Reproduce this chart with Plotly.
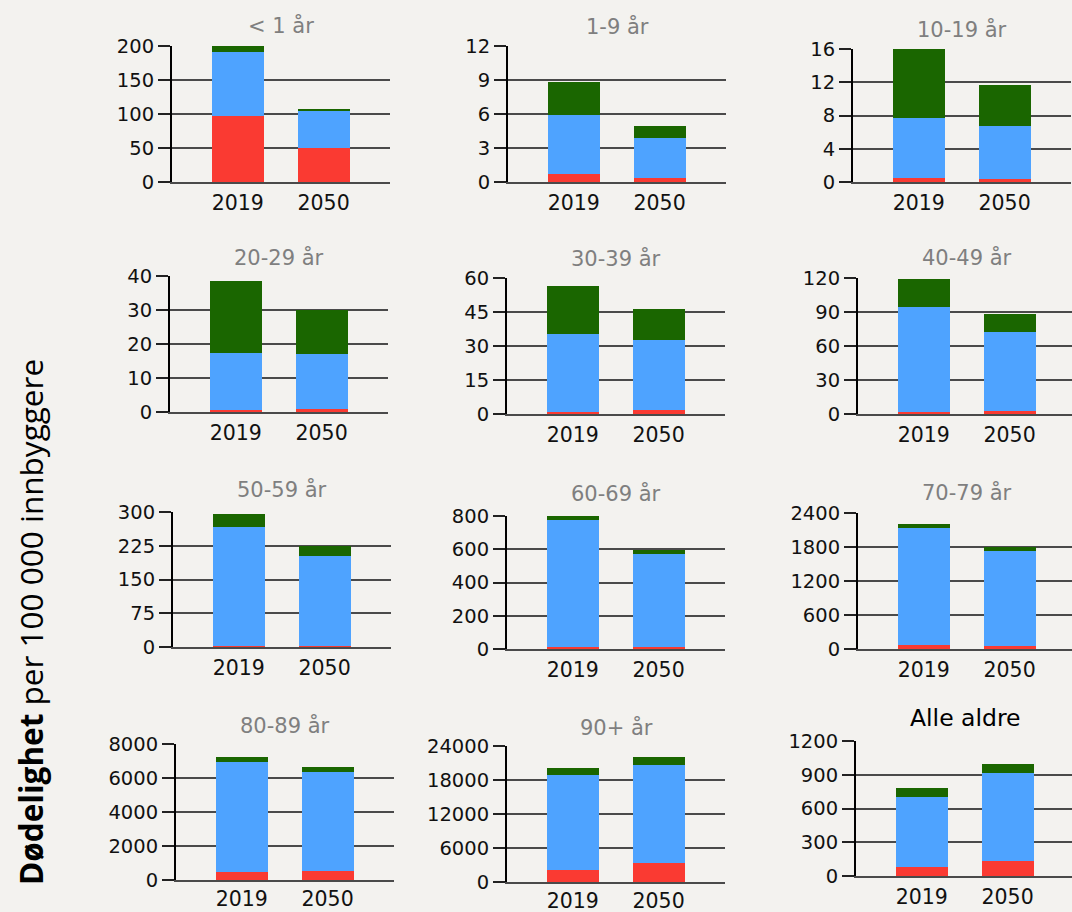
import plotly.graph_objects as go

# Dødelighet per 100 000 innbyggere, fordelt på tre komponenter (rød, blå, grønn)
years = ["2019", "2050"]
age_groups = ["< 1 år", "1-9 år", "10-19 år",
              "20-29 år", "30-39 år", "40-49 år",
              "50-59 år", "60-69 år", "70-79 år",
              "80-89 år", "90+ år", "Alle aldre"]

red_part = [[97, 50], [0.74, 0.35], [0.52, 0.32],
            [0.6, 0.9], [0.7, 1.8], [1.5, 2.9],
            [3, 3], [14, 10], [71, 59],
            [490, 529], [2176, 3294], [77, 136]]
blue_part = [[94, 54], [5.2, 3.5], [7.14, 6.42],
             [16.9, 16.3], [34.6, 30.7], [93.2, 69.4],
             [263.7, 199], [764, 559], [2063, 1674],
             [6451, 5824], [16706, 17294], [626, 783]]
green_part = [[9, 3], [2.91, 1.06], [8.64, 4.93],
              [21.0, 12.9], [21.3, 13.7], [24.3, 15.9],
              [28.1, 21.7], [34, 26], [71, 59],
              [314, 314], [1177, 1412], [83, 74]]

y_max = [200, 12, 16, 40, 60, 120, 300, 800, 2400, 8000, 24000, 1200]
y_step = [50, 3, 4, 10, 15, 30, 75, 200, 600, 2000, 6000, 300]

# Panel placement in pixels: left edge of the value axis, baseline, top, title centre
W, H = 1072, 912
axis_left = [172, 508, 853, 170, 507, 858, 173, 507, 858, 176, 507, 856]
axis_zero = [182, 182, 182, 412, 414, 414, 647, 649, 649, 880, 882, 876]
axis_top = [46, 46, 49, 276, 278, 278, 512, 516, 513, 744, 746, 741]
title_mid = [25, 27, 29, 257, 258, 257, 490, 493, 492, 725, 727, 718]
label_gap = [2, 2, 2, 2, 2, 2, 2, 2, 2, 0, 0, 2]
panel_w = 218
px_per_cat = 85.8
cat_pad = 0.767

colors = ["#fa3a32", "#4ea3ff", "#1a6600"]
bg = "#f3f2ef"
FONT = "DejaVu Sans, Arial, sans-serif"
ytick_font = dict(family=FONT, size=19.5, color="#111111")
xtick_font = dict(family=FONT, size=20.5, color="#111111")

fig = go.Figure()
layout = dict(
    width=W, height=H,
    margin=dict(l=0, r=0, t=0, b=0, pad=0, autoexpand=False),
    paper_bgcolor=bg, plot_bgcolor=bg, barmode="stack", showlegend=False,
    annotations=[],
)

for i in range(12):
    n = i + 1
    xa = "x" if n == 1 else f"x{n}"
    ya = "y" if n == 1 else f"y{n}"
    for part, col in zip((red_part, blue_part, green_part), colors):
        fig.add_trace(go.Bar(x=years, y=part[i], xaxis=xa, yaxis=ya,
                             marker=dict(color=col, line=dict(width=0)),
                             width=0.605))
    left = axis_left[i]
    right = min(left + panel_w, W)
    x_hi = -cat_pad + (right - left) / px_per_cat
    key = "" if n == 1 else str(n)
    layout[f"xaxis{key}"] = dict(
        domain=[left / W, right / W], anchor=ya, type="category",
        range=[-cat_pad, x_hi], showgrid=False, zeroline=False,
        showline=True, linecolor="#4a4a4a", linewidth=1.6,
        ticks="outside" if label_gap[i] else "", ticklen=max(label_gap[i], 1),
        tickcolor="rgba(0,0,0,0)",
        tickfont=xtick_font, fixedrange=True, automargin=False,
    )
    layout[f"yaxis{key}"] = dict(
        domain=[1 - axis_zero[i] / H, 1 - axis_top[i] / H], anchor=xa,
        range=[0, y_max[i]], tick0=0, dtick=y_step[i], tickformat="d",
        showgrid=True, gridcolor="#4a4a4a", gridwidth=1.6,
        zeroline=False, showline=True, linecolor="#000000", linewidth=2,
        ticks="outside", ticklen=12, tickcolor="#222222", tickwidth=1.6,
        tickfont=ytick_font, fixedrange=True, automargin=False,
    )
    is_total = age_groups[i] == "Alle aldre"
    layout["annotations"].append(dict(
        text=age_groups[i], xref="paper", yref="paper",
        x=(left + left + panel_w) / 2 / W, y=1 - title_mid[i] / H,
        xanchor="center", yanchor="middle", showarrow=False,
        font=dict(family=FONT, size=23.5 if is_total else 21,
                  color="#000000" if is_total else "#7f7f7f"),
    ))

layout["annotations"].append(dict(
    text="<b>Dødelighet</b> per 100 000 innbyggere",
    xref="paper", yref="paper", x=30 / W, y=1 - 622 / H,
    xanchor="center", yanchor="middle", textangle=-90, showarrow=False,
    font=dict(family="Open Sans, sans-serif", size=31.5, color="#000000"),
))

fig.update_layout(**layout)
fig.write_html("out.html")
